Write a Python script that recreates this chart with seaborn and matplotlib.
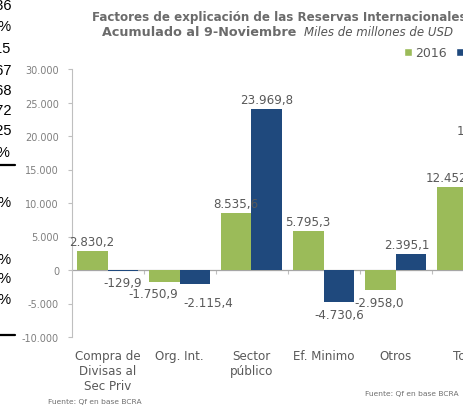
import matplotlib
matplotlib.use("Agg")
import matplotlib.pyplot as plt
import seaborn as sns
import pandas as pd
from matplotlib.patches import Patch

categories = ["Compra de\nDivisas al\nSec Priv", "Org. Int.", "Sector\npúblico",
              "Ef. Minimo", "Otros", "Total"]
series_names = ["2016", "2017"]
values_2016 = [2830.2, -1750.9, 8535.6, 5795.3, -2958.0, 12452.2]
values_2017 = [-129.9, -2115.4, 23969.8, -4730.6, 2395.1, 19389.0]
yticks = [-10000, -5000, 0, 5000, 10000, 15000, 20000, 25000, 30000]

# fragments of the neighbouring table (cut by the left edge)
side_texts = ["0,36", "18%", "1,15", "0,67", "0,68", "0,72", "0,25", "%",
              "19%", "15%", "16%", "13%"]

# style / layout
GREEN = "#9BBB59"
BLUE = "#1F497D"
TXT = "#595959"
W, H = 463, 406
side_y = [6, 27, 49, 71, 91, 111, 131, 153, 203, 260, 279, 300]
side_xr = [11.5] * 7 + [9] + [12.5] * 4
label_dx = [[0, -11, 0, 0, -1, 0], [0, 13, 0, 0, -4, 0]]
label_dy = [[0, 0, 0, 0, 1, 0], [0, 6, 0, 1, 0, 0]]

df = pd.DataFrame({
    "cat": categories * 2,
    "year": [series_names[0]] * len(categories) + [series_names[1]] * len(categories),
    "val": values_2016 + values_2017,
})

sns.set_theme(style="white")
plt.rcParams["font.family"] = ["DejaVu Sans"]

fig = plt.figure(figsize=(W / 100, H / 100), dpi=100)
ax = fig.add_axes([71.5 / W, (H - 338) / H, 432 / W, 268 / H])

sns.barplot(data=df, x="cat", y="val", hue="year", palette=[GREEN, BLUE],
            width=0.86, saturation=1, ax=ax, legend=False, errorbar=None,
            linewidth=0, edgecolor="none")

ax.set_ylim(-10000, 30000)
ax.set_xlim(-0.5, len(categories) - 0.5)
ax.set_yticks(yticks)
ax.set_yticklabels([f"{v:,.0f}".replace(",", ".") for v in yticks],
                   fontsize=7, color="#7f7f7f")
ax.set_xlabel("")
ax.set_ylabel("")
ax.tick_params(axis="y", length=3, width=0.8, color="#BFBFBF", pad=6, left=True)
ax.tick_params(axis="x", length=0, pad=9)
for lab in ax.get_xticklabels():
    lab.set_fontsize(8.6)
    lab.set_color(TXT)
    lab.set_linespacing(1.2)
for s in ["top", "right", "bottom"]:
    ax.spines[s].set_visible(False)
ax.spines["left"].set_color("#BFBFBF")
ax.spines["left"].set_linewidth(0.8)

# zero line with group boundary ticks
sec = ax.secondary_xaxis(0.25)
sec.set_xticks([i + 0.5 for i in range(len(categories) - 1)])
sec.tick_params(axis="x", length=3, width=0.8, color="#BFBFBF", labelbottom=False)
sec.spines["bottom"].set_color("#A6A6A6")
sec.spines["bottom"].set_linewidth(0.9)
for s in ["top", "left", "right"]:
    sec.spines[s].set_visible(False)

def fmt(v):
    return f"{v:,.1f}".replace(",", "X").replace(".", ",").replace("X", ".")

for si, cont in enumerate(ax.containers):
    for ci, bar in enumerate(cont):
        h = bar.get_height()
        xc = bar.get_x() + bar.get_width() / 2
        dy = 9.5 if h >= 0 else -12
        dy -= label_dy[si][ci]
        ax.annotate(fmt(h), xy=(xc, h),
                    xytext=(label_dx[si][ci] * 0.72, dy * 0.72),
                    textcoords="offset points", ha="center", va="center",
                    fontsize=8.6, color=TXT, annotation_clip=False)

# title
TTL = "#6b6b6b"
fig.text(279 / W, 1 - 18 / H, "Factores de explicación de las Reservas Internacionales",
         ha="center", va="center", fontsize=8.6, color=TTL, weight="bold")
fig.text(301 / W, 1 - 33 / H, "Acumulado al 9-Noviembre ",
         ha="right", va="center", fontsize=9.2, color=TTL, weight="bold")
fig.text(304 / W, 1 - 33 / H, "Miles de millones de USD",
         ha="left", va="center", fontsize=8.5, color="#555555", style="italic")

# legend
handles = [Patch(facecolor=GREEN, label=series_names[0]),
           Patch(facecolor=BLUE, label=series_names[1])]
fig.legend(handles=handles, loc="center left", bbox_to_anchor=(404 / W, 1 - 54 / H),
           ncol=2, frameon=False, fontsize=9, handlelength=0.6, handleheight=0.6,
           handletextpad=0.3, columnspacing=0.75, labelcolor=TXT, borderpad=0,
           borderaxespad=0)

# sources
fig.text(48 / W, 1 - 402 / H, "Fuente: Qf en base BCRA", ha="left", va="center",
         fontsize=5.4, color="#6f6f6f")
fig.text(365 / W, 1 - 394 / H, "Fuente: Qf en base BCRA", ha="left", va="center",
         fontsize=5.4, color="#6f6f6f")

# side table fragments
for t, y, xr in zip(side_texts, side_y, side_xr):
    fig.text(xr / W, 1 - y / H, t, ha="right", va="center", fontsize=10.5,
             color="black", family=["Liberation Sans"])
for y in [166, 336]:
    fig.add_artist(plt.Line2D([0, 15 / W], [1 - y / H, 1 - y / H],
                              color="black", linewidth=1.6, transform=fig.transFigure))

fig.savefig("out.png", dpi=100)
